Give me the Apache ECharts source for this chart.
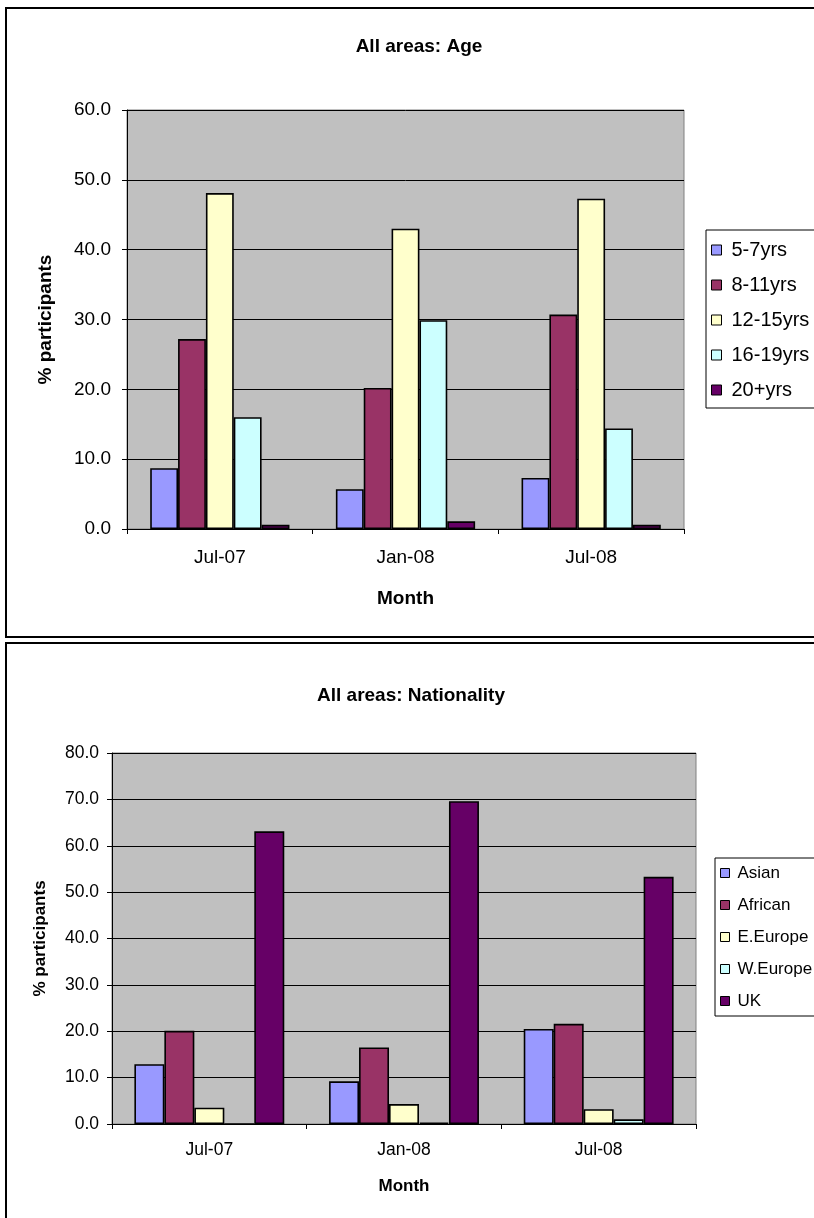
<!DOCTYPE html>
<html>
<head>
<meta charset="utf-8">
<script src="https://cdn.jsdelivr.net/npm/echarts@6/dist/echarts.min.js"></script>
<style>
html,body{margin:0;padding:0;background:#fff;}
#c{width:814px;height:1218px;}
</style>
</head>
<body>
<div id="c"></div>
<script>
const months = ['Jul-07', 'Jan-08', 'Jul-08'];
const yTicksAge = [0, 10, 20, 30, 40, 50, 60];
const yTicksNat = [0, 10, 20, 30, 40, 50, 60, 70, 80];

const ageGroups = ['5-7yrs', '8-11yrs', '12-15yrs', '16-19yrs', '20+yrs'];
const age5to7 = [8.7, 5.7, 7.3];
const age8to11 = [27.2, 20.2, 30.7];
const age12to15 = [48.1, 43.0, 47.3];
const age16to19 = [16.0, 29.9, 14.4];
const age20plus = [0.6, 1.1, 0.6];

const nationalities = ['Asian', 'African', 'E.Europe', 'W.Europe', 'UK'];
const natAsian = [12.9, 9.2, 20.5];
const natAfrican = [20.1, 16.5, 21.6];
const natEEurope = [3.5, 4.3, 3.2];
const natWEurope = [0.0, 0.3, 1.0];
const natUK = [63.1, 69.6, 53.3];

const colors = ['#9999FF', '#993366', '#FFFFCC', '#CCFFFF', '#660066'];
const FONT = '"Liberation Sans", Arial, sans-serif';

const ageData = [age5to7, age8to11, age12to15, age16to19, age20plus];
const natData = [natAsian, natAfrican, natEEurope, natWEurope, natUK];

function barSeries(names, data, idx, catGap) {
  return names.map((n, i) => ({
    name: n,
    type: 'bar',
    xAxisIndex: idx,
    yAxisIndex: idx,
    data: data[i],
    barGap: '0%',
    barCategoryGap: catGap,
    itemStyle: { color: colors[i], borderColor: '#000', borderWidth: 1.6 },
    emphasis: { disabled: true }
  }));
}

function yAxis(idx, ticks, fs, nameFs, nameGap, margin) {
  return {
    type: 'value', gridIndex: idx,
    min: ticks[0], max: ticks[ticks.length - 1], interval: 10,
    name: '% participants', nameLocation: 'middle', nameGap: nameGap, nameRotate: 90,
    nameTextStyle: { fontFamily: FONT, fontWeight: 'bold', fontSize: nameFs, color: '#000' },
    axisLine: { show: true, lineStyle: { color: '#000', width: 1 } },
    axisTick: { show: true, length: 5, lineStyle: { color: '#000' } },
    axisLabel: { fontFamily: FONT, fontSize: fs, color: '#000', margin: margin, formatter: v => v.toFixed(1) },
    splitLine: { show: true, lineStyle: { color: '#000', width: 1 } }
  };
}

function xAxis(idx, fs, nameFs, nameGap, margin) {
  return {
    type: 'category', gridIndex: idx, data: months,
    name: 'Month', nameLocation: 'middle', nameGap: nameGap,
    nameTextStyle: { fontFamily: FONT, fontWeight: 'bold', fontSize: nameFs, color: '#000' },
    axisLine: { show: true, lineStyle: { color: '#000', width: 1 } },
    axisTick: { show: true, length: 5, lineStyle: { color: '#000' } },
    axisLabel: { fontFamily: FONT, fontSize: fs, color: '#000', margin: margin }
  };
}

const chart = echarts.init(document.getElementById('c'), null, { renderer: 'canvas' });
chart.setOption({
  animation: false,
  backgroundColor: '#fff',
  graphic: [
    { type: 'rect', shape: { x: 6, y: 8, width: 830, height: 629 }, style: { fill: 'none', stroke: '#000', lineWidth: 2 }, silent: true, z: -10 },
    { type: 'rect', shape: { x: 6, y: 643, width: 830, height: 600 }, style: { fill: 'none', stroke: '#000', lineWidth: 2 }, silent: true, z: -10 }
  ],
  title: [
    { text: 'All areas: Age', left: 414, top: 32, textAlign: 'center',
      textStyle: { fontFamily: FONT, fontWeight: 'bold', fontSize: 19, color: '#000' } },
    { text: 'All areas: Nationality', left: 406, top: 681, textAlign: 'center',
      textStyle: { fontFamily: FONT, fontWeight: 'bold', fontSize: 19, color: '#000' } }
  ],
  legend: [
    { data: ageGroups, orient: 'vertical', left: 706, top: 230,
      padding: [10, 40, 8, 5], itemGap: 15, itemWidth: 10, itemHeight: 10,
      icon: 'rect', borderColor: '#000', borderWidth: 1, backgroundColor: '#fff',
      textStyle: { fontFamily: FONT, fontSize: 20, color: '#000', lineHeight: 20, padding: [0, 0, 0, 5] },
      itemStyle: { borderColor: '#000', borderWidth: 1 }, selectedMode: false },
    { data: nationalities, orient: 'vertical', left: 715, top: 858,
      padding: [6.5, 40, 6.5, 5], itemGap: 15, itemWidth: 9, itemHeight: 9,
      icon: 'rect', borderColor: '#000', borderWidth: 1, backgroundColor: '#fff',
      textStyle: { fontFamily: FONT, fontSize: 17, color: '#000', lineHeight: 17, padding: [0, 0, 0, 3] },
      itemStyle: { borderColor: '#000', borderWidth: 1 }, selectedMode: false }
  ],
  grid: [
    { left: 127, top: 110, width: 557, height: 419, show: true, backgroundColor: '#C0C0C0', borderColor: '#808080', borderWidth: 1, containLabel: false },
    { left: 112, top: 753, width: 584, height: 371, show: true, backgroundColor: '#C0C0C0', borderColor: '#808080', borderWidth: 1, containLabel: false }
  ],
  xAxis: [xAxis(0, 19, 19, 60, 19), xAxis(1, 17.5, 17, 54, 17)],
  yAxis: [yAxis(0, yTicksAge, 19, 19, 72, 16), yAxis(1, yTicksNat, 17.5, 17, 63, 13)],
  series: [].concat(barSeries(ageGroups, ageData, 0, '25%'), barSeries(nationalities, natData, 1, '23%'))
});
</script>
</body>
</html>
